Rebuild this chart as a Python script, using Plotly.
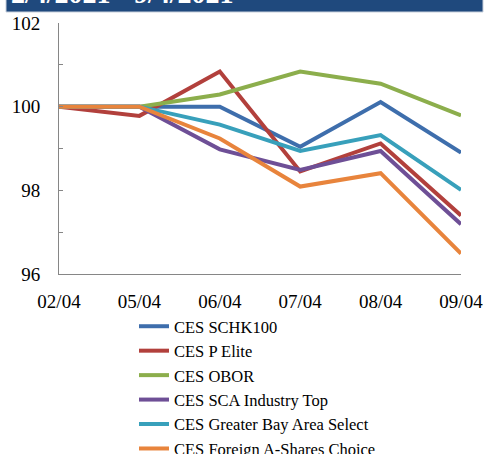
import plotly.graph_objects as go

dates = ["02/04", "05/04", "06/04", "07/04", "08/04", "09/04"]
schk100 = [100, 100, 100.0, 99.04, 100.11, 98.90]
p_elite = [100, 99.78, 100.84, 98.45, 99.12, 97.40]
obor = [100, 100, 100.29, 100.84, 100.55, 99.79]
sca_top = [100, 100, 98.98, 98.49, 98.94, 97.19]
gba_select = [100, 100, 99.57, 98.94, 99.32, 98.01]
foreign_a = [100, 100, 99.24, 98.09, 98.41, 96.49]

series_names = ["CES SCHK100", "CES P Elite", "CES OBOR", "CES SCA Industry Top",
                "CES Greater Bay Area Select", "CES Foreign A-Shares Choice"]
series_vals = [schk100, p_elite, obor, sca_top, gba_select, foreign_a]
colors = ["#3e6eac", "#b2403c", "#8cae4c", "#6e4f96", "#38a0bb", "#e8843c"]

y_ticks = [96, 97, 98, 99, 100, 101, 102]
y_labels = ["96", "", "98", "", "100", "", "102"]
title_text = "2/4/2021 - 9/4/2021"

FONT = "Liberation Serif"

fig = go.Figure()
for name, vals, c in zip(series_names, series_vals, colors):
    fig.add_trace(go.Scatter(x=dates, y=vals, name=name, mode="lines",
                             line=dict(color=c, width=4)))

W, H = 487, 454
L, R, T, B = 59, 26, 23, 180
pw, ph = W - L - R, H - T - B

def px_x(p):
    return (p - L) / pw

def px_y(p):
    return (H - B - p) / ph

fig.add_shape(type="rect", xref="paper", yref="paper",
              x0=px_x(6), x1=px_x(483), y0=px_y(12), y1=px_y(-5),
              fillcolor="#1f497d", line=dict(color="#c8d0dc", width=1), layer="above")
fig.add_annotation(xref="paper", yref="paper", x=px_x(9), y=px_y(11),
                   xanchor="left", yanchor="bottom", text="<b>" + title_text + "</b>",
                   showarrow=False, font=dict(family=FONT, size=28, color="white"))

fig.update_layout(
    width=W, height=H,
    margin=dict(l=L, r=R, t=T, b=B, autoexpand=False),
    paper_bgcolor="white", plot_bgcolor="white",
    font=dict(family=FONT, size=19, color="black"),
    showlegend=True,
    legend=dict(x=px_x(134), y=px_y(309),
                xanchor="left", yanchor="top", font=dict(size=16.5, family=FONT),
                bgcolor="rgba(0,0,0,0)", tracegroupgap=0),
)
fig.update_xaxes(type="category", range=[0, 5], showline=True, linecolor="#868686",
                 linewidth=1, showgrid=False, ticks="", ticklabelstandoff=10,
                 tickangle=0, tickfont=dict(size=19, family=FONT))
fig.update_yaxes(range=[96, 102], tickvals=y_ticks, ticktext=y_labels, showline=True,
                 linecolor="#868686", linewidth=1, showgrid=False, ticks="inside",
                 ticklen=4, tickcolor="#868686", ticklabelstandoff=14, zeroline=False,
                 tickfont=dict(size=19, family=FONT))

fig.write_html("out.html", config={"displayModeBar": False},
               post_script="document.body.style.margin='0';document.body.style.overflow='hidden';")
